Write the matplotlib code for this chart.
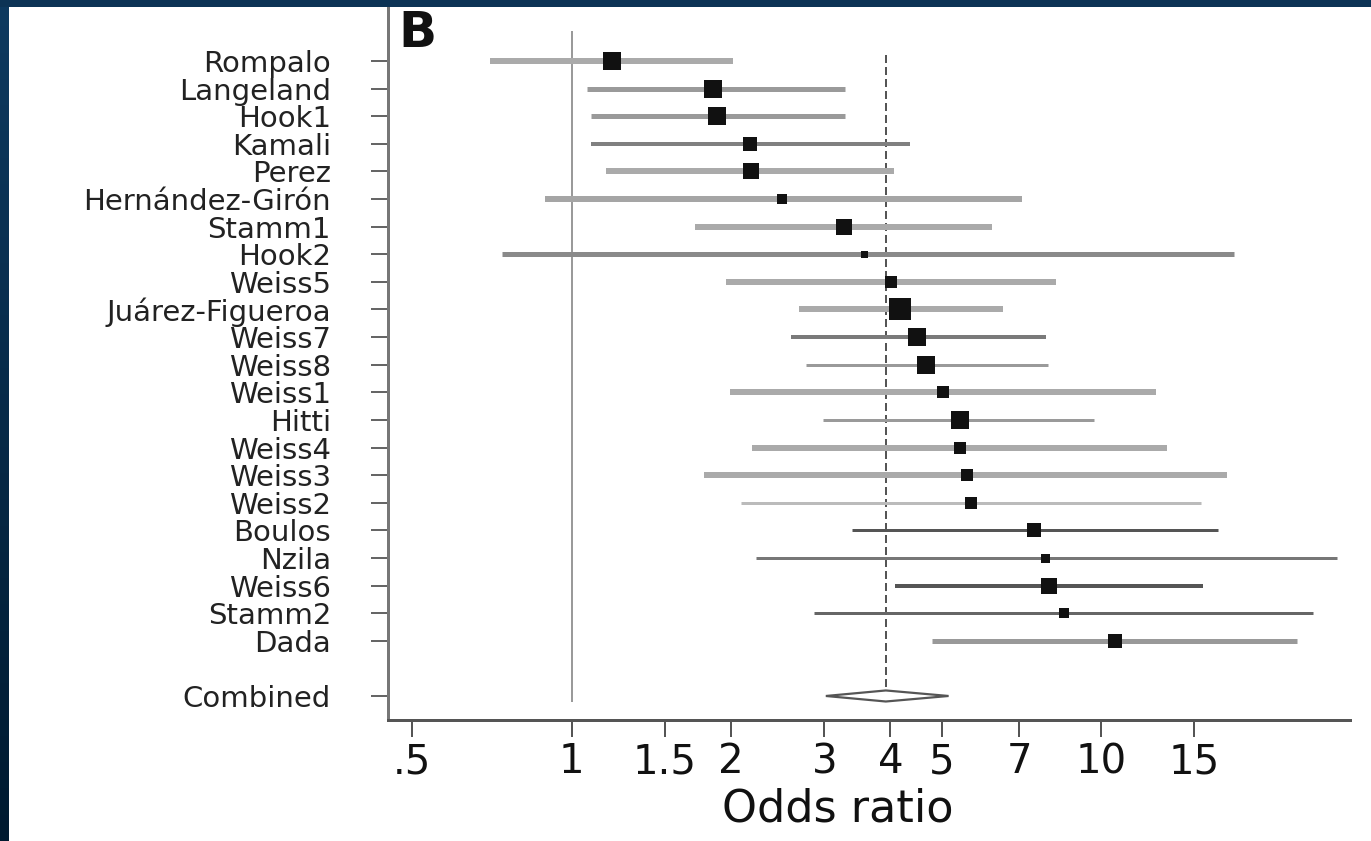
import matplotlib
matplotlib.use("Agg")
import matplotlib.pyplot as plt
import numpy as np
from matplotlib.patches import Polygon, Rectangle

studies = [
    "Rompalo", "Langeland", "Hook1", "Kamali", "Perez", "Hernández-Girón",
    "Stamm1", "Hook2", "Weiss5", "Juárez-Figueroa", "Weiss7", "Weiss8",
    "Weiss1", "Hitti", "Weiss4", "Weiss3", "Weiss2", "Boulos", "Nzila",
    "Weiss6", "Stamm2", "Dada",
]
odds_ratio = [1.19, 1.85, 1.88, 2.17, 2.18, 2.50, 3.27, 3.56, 4.01, 4.17, 4.49,
              4.67, 5.03, 5.42, 5.42, 5.58, 5.68, 7.46, 7.83, 7.96, 8.51, 10.6]
ci_low = [0.70, 1.07, 1.09, 1.09, 1.16, 0.89, 1.71, 0.74, 1.96, 2.69, 2.59,
          2.77, 1.99, 2.98, 2.19, 1.78, 2.09, 3.38, 2.23, 4.08, 2.87, 4.79]
ci_high = [2.02, 3.28, 3.28, 4.36, 4.06, 7.09, 6.22, 17.8, 8.21, 6.52, 7.86,
           7.92, 12.7, 9.7, 13.3, 17.3, 15.4, 16.6, 27.9, 15.6, 25.1, 23.4]
# study weight, shown as box side (px)
weights = [18, 18, 18, 14, 16, 10, 16, 7, 12, 22, 18,
           18, 12, 18, 12, 12, 12, 14, 9, 16, 10, 14]

combined_label = "Combined"
combined_or = 3.92
combined_low = 3.02
combined_high = 5.15

xticks = [0.5, 1, 1.5, 2, 3, 4, 5, 7, 10, 15]
xtick_labels = [".5", "1", "1.5", "2", "3", "4", "5", "7", "10", "15"]

# line look of each CI (colour, width in px)
ci_colors = ["#aaaaaa", "#9a9a9a", "#9a9a9a", "#808080", "#aaaaaa", "#a5a5a5",
             "#aaaaaa", "#8a8a8a", "#aaaaaa", "#aaaaaa", "#7a7a7a", "#9a9a9a",
             "#aaaaaa", "#9a9a9a", "#aaaaaa", "#aaaaaa", "#bbbbbb", "#555555",
             "#777777", "#555555", "#666666", "#999999"]
ci_widths = [6, 5, 5, 4, 6, 6, 6, 5, 6, 6, 4, 3,
             6, 3, 6, 6, 3, 3, 3, 4, 3, 5]

W, H = 1371, 841
PX = 72 / 100  # points per pixel at dpi 100

fig = plt.figure(figsize=(W / 100, H / 100), dpi=100)
fig.patch.set_facecolor("white")

# dark blue frame on top and left
bg = fig.add_axes([0, 0, 1, 1], zorder=-1)
bg.set_xlim(0, W)
bg.set_ylim(H, 0)
bg.axis("off")
grad = np.linspace(0, 1, 256).reshape(-1, 1)
from matplotlib.colors import LinearSegmentedColormap
cmap = LinearSegmentedColormap.from_list("band", ["#0e3a60", "#001a30"])
bg.imshow(grad, cmap=cmap, extent=[0, 9, H, 0], aspect="auto")
bg.add_patch(Rectangle((0, 0), W, 7, color="#0c3355", lw=0))

ax = fig.add_axes([388 / W, 1 - 720 / H, (1350 - 388) / W, (720 - 8) / H])
ax.set_facecolor("none")

rows = np.arange(len(studies))
combined_row = len(studies) + 1

# reference line at OR = 1
ax.vlines(1, -1.1, combined_row + 0.2, color="#9a9a9a", lw=2 * PX, zorder=1)
# dashed line at pooled estimate
ax.plot([combined_or, combined_or], [-0.2, combined_row - 0.2], color="#555555",
        lw=2 * PX, dashes=(4, 2), zorder=2)

for r, o, lo, hi, w, c, lw in zip(rows, odds_ratio, ci_low, ci_high, weights,
                                   ci_colors, ci_widths):
    ax.plot([lo, hi], [r, r], color=c, lw=lw * PX, solid_capstyle="butt", zorder=3)
    ax.plot([o], [r], marker="s", color="#111111", markersize=w * PX,
            markeredgewidth=0, zorder=4)

diamond = Polygon([(combined_low, combined_row), (combined_or, combined_row - 0.2),
                   (combined_high, combined_row), (combined_or, combined_row + 0.2)],
                  closed=True, facecolor="white", edgecolor="#555555",
                  lw=2.2 * PX, zorder=4)
ax.add_patch(diamond)

ax.set_xscale("log")
ax.set_xlim(0.45, 29.5)
ax.set_ylim(23.87, -1.92)

ax.set_xticks(xticks)
ax.set_xticklabels(xtick_labels)
ax.xaxis.set_minor_locator(matplotlib.ticker.NullLocator())
ax.set_yticks(list(rows) + [combined_row])
ax.set_yticklabels(studies + [combined_label])

ax.tick_params(axis="y", length=17 * PX, width=2 * PX, color="#666666",
               pad=40 * PX, labelsize=21, labelcolor="#222222")
ax.tick_params(axis="x", length=17 * PX, width=2 * PX, color="#555555",
               pad=5 * PX, labelsize=29, labelcolor="#111111")

for side in ["top", "right"]:
    ax.spines[side].set_visible(False)
ax.spines["left"].set_color("#777777")
ax.spines["left"].set_linewidth(3 * PX)
ax.spines["bottom"].set_color("#555555")
ax.spines["bottom"].set_linewidth(3 * PX)

ax.set_xlabel("Odds ratio", fontsize=32, color="#111111")
ax.xaxis.set_label_coords((838 - 388) / (1350 - 388), -(788 - 720) / (720 - 8))

fig.text(398 / W, 1 - 9 / H, "B", fontsize=36, fontweight="bold", va="top",
         ha="left", color="#111111")

fig.savefig("out.png", dpi=100)
